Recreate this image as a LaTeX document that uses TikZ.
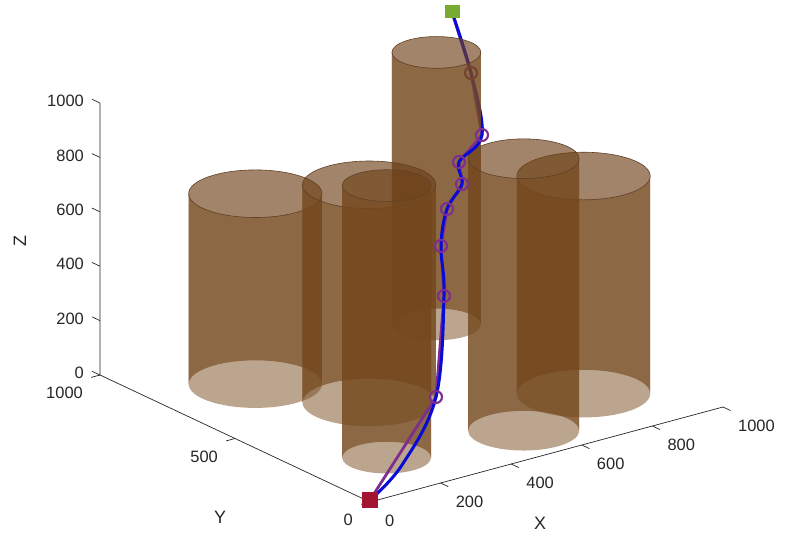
\documentclass[tikz,border=0pt]{standalone}
\usepackage{fontspec}
\setmainfont{Liberation Sans}
\usetikzlibrary{calc}

\definecolor{axisgray}{RGB}{38,38,38}
\definecolor{backbrown}{RGB}{110,66,25}
\definecolor{frontbrown}{RGB}{120,76,32}
\definecolor{rimbrown}{RGB}{96,64,38}
\definecolor{routepurple}{RGB}{126,47,142}
\definecolor{smoothblue}{RGB}{10,10,215}
\definecolor{startred}{RGB}{162,20,47}
\definecolor{goalgreen}{RGB}{119,172,48}

\begin{document}
\begin{tikzpicture}[
            x=1bp, y=1bp,
            proj3d/.style={shift={(370,-502)}, x={(0.353bp,0.095bp)}, y={(-0.270bp,0.127bp)}, z={(0bp,0.272bp)}},
            axis line/.style={draw=axisgray, line width=0.7bp},
            tick label/.style={font=\fontsize{16.5}{19}\selectfont, text=axisgray, inner sep=0pt},
            axis label/.style={font=\fontsize{18}{21}\selectfont, text=axisgray, inner sep=0pt},
            cyl back/.style={fill=backbrown, fill opacity=0.65},
            cyl front/.style={fill=frontbrown, fill opacity=0.5},
            cyl rim/.style={draw=rimbrown, line width=0.6bp},
            route/.style={draw=routepurple, line width=2.8bp, line join=round},
            smooth route/.style={draw=smoothblue, line width=3bp, line cap=round},
            waypoint/.style={circle, draw=routepurple, line width=2.1bp, minimum size=12bp, inner sep=0pt},
            start box/.style={fill=startred, minimum size=16bp, inner sep=0pt},
            goal box/.style={fill=goalgreen, minimum width=15bp, minimum height=13bp, inner sep=0pt},
            ]
            \useasboundingbox (0,0) rectangle (796,-535);

            % axes
            \path[proj3d] (0,0,0) coordinate (O) (1000,0,0) coordinate (Xend)
                (0,1000,0) coordinate (Yend) (0,1000,1000) coordinate (Zend);
            \draw[axis line] (Xend) -- (O) -- (Yend) -- (Zend);
            \foreach \v in {0,200,...,1000} {
                \draw[axis line, proj3d] (\v,0,0) -- ++(0,-28,0);
                \draw[axis line, proj3d] (0,1000,\v) -- ++(0,30,0);
                \node[tick label, anchor=west] (x\v) at ($(O)!\v/1000!(Xend)+(15,-19)$) {\v};
                \node[tick label, anchor=east] (z\v) at ($(Yend)!\v/1000!(Zend)+(-16,2)$) {\v};
            }
            \foreach \v in {0,500,1000} {
                \draw[axis line, proj3d] (0,\v,0) -- ++(-25,0,0);
                \node[tick label, anchor=east] (y\v) at ($(O)!\v/1000!(Yend)+(-17,-18)$) {\v};
            }
            \node[axis label] (xlab) at (540,-523) {X};
            \node[axis label] (ylab) at (220,-517) {Y};
            \node[axis label, rotate=90] (zlab) at (20,-241) {Z};

            % waypoints of the route
            \coordinate (start) at (370,-500);
            \coordinate (w1) at (436,-397);
            \coordinate (w2) at (444,-296);
            \coordinate (w3) at (441,-246);
            \coordinate (w4) at (447,-209);
            \coordinate (w5) at (462,-184);
            \coordinate (w6) at (459,-162);
            \coordinate (w7) at (482,-135);
            \coordinate (w8) at (471,-73);
            \coordinate (goal) at (452,-12);
            \coordinate (b1) at (402,-465);

            \def\routes{
                \draw[route] (start) -- (w1) -- (w2) -- (w3) -- (w4) -- (w5) -- (w6) -- (w7) -- (w8) -- (goal);
                \draw[smooth route] plot[smooth, tension=0.6] coordinates {(start) (b1) (w1) (w2) (w3) (w4) (w5) (w6) (w7) (w8) (goal)};
            }

            % upper part runs behind the tall cylinder
            \begin{scope}
                \clip (0,0) rectangle (796,-128);
                \routes
                \node[waypoint] (m8) at (w8) {};
            \end{scope}

            % cylinders, back to front: name/X/Y/radius/height
            \foreach \n/\cx/\cy/\r/\h in {D/800/800/100/1000, A/245/745/150/700, F/800/255/150/800,
                                          B/380/500/150/800, E/550/150/125/1000, C/200/200/100/1000} {
                \path[proj3d] (\cx,\cy,0) coordinate (\n bot) (\cx,\cy,\h) coordinate (\n top);
                \pgfmathsetmacro{\rx}{0.4444*\r}
                \pgfmathsetmacro{\ry}{0.1586*\r}
                \fill[cyl back] ($(\n bot)+(-\rx,0)$) arc[start angle=180, end angle=0, x radius=\rx, y radius=\ry]
                    -- ($(\n top)+(\rx,0)$) arc[start angle=0, end angle=180, x radius=\rx, y radius=\ry] -- cycle;
                \fill[cyl front] ($(\n bot)+(-\rx,0)$) arc[start angle=180, end angle=360, x radius=\rx, y radius=\ry]
                    -- ($(\n top)+(\rx,0)$) arc[start angle=0, end angle=-180, x radius=\rx, y radius=\ry] -- cycle;
                \draw[cyl rim] (\n top) ellipse[x radius=\rx, y radius=\ry];
            }

            % lower part in front
            \begin{scope}
                \clip (0,-128) rectangle (796,-535);
                \routes
            \end{scope}
            \foreach \i in {1,...,7} {
                \node[waypoint] (m\i) at (w\i) {};
            }
            \node[start box] (startbox) at (start) {};
            \node[goal box] (goalbox) at (goal) {};
        \end{tikzpicture}
\end{document}
